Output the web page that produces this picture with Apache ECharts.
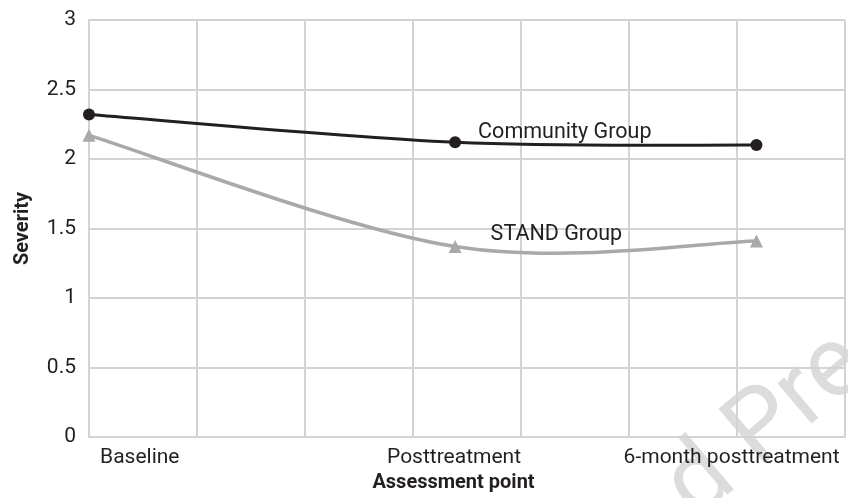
<!DOCTYPE html>
<html>
<head>
<meta charset="utf-8">
<script src="https://cdn.jsdelivr.net/npm/echarts@6/dist/echarts.min.js"></script>
<style>
  html, body { margin: 0; padding: 0; background: #fff; }
  #main { width: 848px; height: 498px; }
</style>
</head>
<body>
<div id="main"></div>
<script>
// assessment points (position on the x scale) and their tick labels
var timePoints = [0, 3.39, 6.18];
var categories = ['Baseline', 'Posttreatment', '6-month posttreatment'];
var labelPositions = [0.47, 3.38, 5.95];

// severity means
var communityGroup = [2.32, 2.12, 2.10];
var standGroup = [2.17, 1.37, 1.41];

var textColor = '#231f20';
var gridColor = '#d3d3d3';
var standColor = '#a9a9a9';

var myChart = echarts.init(document.getElementById('main'));

function toPoints(values) {
  return timePoints.map(function (x, i) { return [x, values[i]]; });
}

// smoothed line like the spreadsheet one (catmull-rom style, may dip between points)
function curveSeries(values, color, width) {
  return {
    type: 'custom',
    silent: true,
    data: toPoints(values),
    renderItem: function (params, api) {
      var n = timePoints.length;
      var i = params.dataIndexInside;
      if (i >= n - 1) return null;
      function pt(j) {
        j = Math.max(0, Math.min(n - 1, j));
        return api.coord([api.value(0, j), api.value(1, j)]);
      }
      var p0 = pt(i - 1), p1 = pt(i), p2 = pt(i + 1), p3 = pt(i + 2);
      return {
        type: 'bezierCurve',
        shape: {
          x1: p1[0], y1: p1[1],
          x2: p2[0], y2: p2[1],
          cpx1: p1[0] + (p2[0] - p0[0]) / 6,
          cpy1: p1[1] + (p2[1] - p0[1]) / 6,
          cpx2: p2[0] - (p3[0] - p1[0]) / 6,
          cpy2: p2[1] - (p3[1] - p1[1]) / 6
        },
        style: { stroke: color, lineWidth: width, fill: null }
      };
    }
  };
}

function markerSeries(name, values, symbol, size, color, labelOffset) {
  return {
    name: name,
    type: 'scatter',
    symbol: symbol,
    symbolSize: size,
    itemStyle: { color: color, opacity: 1 },
    data: toPoints(values).map(function (v, i) {
      var item = { value: v };
      if (i === 1) {
        item.label = {
          show: true, position: 'right', offset: labelOffset,
          formatter: name, fontSize: 21.5, color: textColor
        };
      }
      return item;
    })
  };
}

var option = {
  animation: false,
  textStyle: { fontFamily: 'Roboto' },
  grid: { left: 89, right: 3, top: 20, bottom: 60 },
  xAxis: {
    type: 'value',
    min: 0,
    max: 7,
    interval: 1,
    name: 'Assessment point',
    nameLocation: 'middle',
    nameGap: 36,
    nameTextStyle: { fontSize: 20, fontWeight: 'bold', color: textColor, padding: [0, 27, 0, 0] },
    axisLine: { show: true, lineStyle: { color: gridColor, width: 2 } },
    axisTick: { show: false },
    splitLine: { show: true, lineStyle: { color: gridColor, width: 2 } },
    axisLabel: {
      customValues: labelPositions,
      fontSize: 21,
      color: textColor,
      margin: 10,
      formatter: function (v) {
        for (var i = 0; i < labelPositions.length; i++) {
          if (Math.abs(labelPositions[i] - v) < 0.001) return categories[i];
        }
        return '';
      }
    }
  },
  yAxis: {
    type: 'value',
    min: 0,
    max: 3,
    interval: 0.5,
    name: 'Severity',
    nameLocation: 'middle',
    nameGap: 56,
    nameTextStyle: { fontSize: 20, fontWeight: 'bold', color: textColor },
    axisLine: { show: true, lineStyle: { color: gridColor, width: 2 } },
    axisTick: { show: false },
    splitLine: { show: true, lineStyle: { color: gridColor, width: 2 } },
    axisLabel: { fontSize: 21, color: textColor, margin: 13 }
  },
  series: [
    curveSeries(standGroup, standColor, 3.5),
    markerSeries('STAND Group', standGroup, 'triangle', 13, standColor, [24, -12]),
    curveSeries(communityGroup, textColor, 3),
    markerSeries('Community Group', communityGroup, 'circle', 12, textColor, [12, -10])
  ],
  graphic: [
    {
      type: 'text',
      x: 712,
      y: 540,
      rotation: 0.7,
      z: -1,
      style: {
        text: 'd Press',
        fontSize: 100,
        fontFamily: 'Roboto',
        fill: '#dcdcdc',
        textVerticalAlign: 'bottom'
      }
    }
  ]
};

myChart.setOption(option);
</script>
</body>
</html>
